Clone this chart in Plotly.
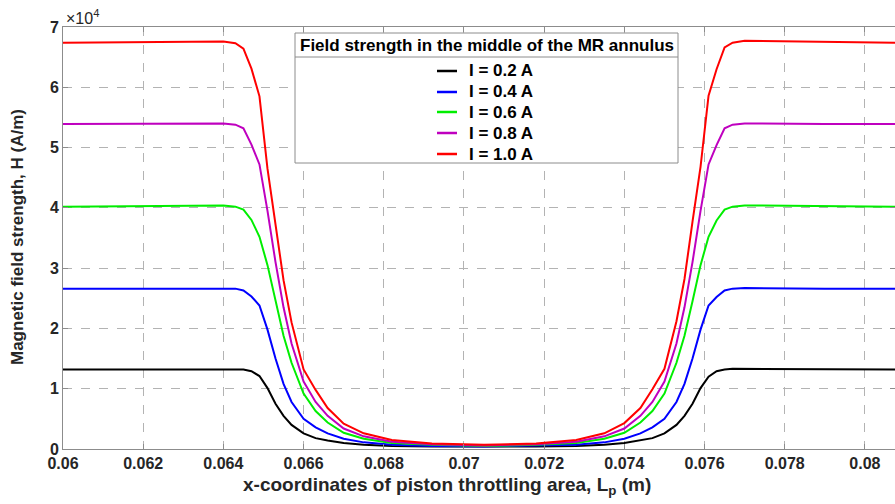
import plotly.graph_objects as go

# x-coordinates of piston throttling area (m)
x_m = [0.0600, 0.0620, 0.0640, 0.0643, 0.0645, 0.0647, 0.0649, 0.0651, 0.0653, 0.0655,
       0.0657, 0.0660, 0.0663, 0.0666, 0.0670, 0.0675, 0.0682, 0.0692, 0.0705,
       0.0718, 0.0728, 0.0735, 0.0740, 0.0744, 0.0747, 0.0750, 0.0753, 0.0755, 0.0757,
       0.0759, 0.0761, 0.0763, 0.0765, 0.0767, 0.0770, 0.0790, 0.0808]

# Field strength H in units of 1e4 A/m
h_02 = [1.32, 1.32, 1.33, 1.33, 1.32, 1.29, 1.21, 1.01, 0.75, 0.55,
        0.40, 0.26, 0.18, 0.14, 0.10, 0.07, 0.05, 0.04, 0.035,
        0.04, 0.05, 0.07, 0.10, 0.14, 0.18, 0.26, 0.40, 0.55, 0.75,
        1.01, 1.20, 1.29, 1.32, 1.33, 1.33, 1.32, 1.32]
h_04 = [2.66, 2.66, 2.67, 2.66, 2.63, 2.53, 2.38, 1.98, 1.50, 1.08,
        0.78, 0.50, 0.36, 0.26, 0.17, 0.11, 0.07, 0.05, 0.04,
        0.05, 0.07, 0.11, 0.17, 0.26, 0.36, 0.50, 0.78, 1.08, 1.50,
        1.98, 2.38, 2.52, 2.63, 2.66, 2.67, 2.66, 2.66]
h_06 = [4.02, 4.03, 4.04, 4.02, 3.97, 3.80, 3.52, 3.05, 2.45, 1.88,
        1.43, 0.92, 0.63, 0.44, 0.27, 0.17, 0.10, 0.07, 0.05,
        0.07, 0.10, 0.17, 0.27, 0.44, 0.63, 0.92, 1.43, 1.88, 2.45,
        3.05, 3.52, 3.79, 3.97, 4.02, 4.04, 4.03, 4.02]
h_08 = [5.39, 5.39, 5.40, 5.38, 5.32, 5.05, 4.72, 3.95, 3.10, 2.35,
        1.75, 1.12, 0.78, 0.55, 0.34, 0.21, 0.12, 0.08, 0.06,
        0.08, 0.12, 0.21, 0.34, 0.55, 0.78, 1.12, 1.75, 2.35, 3.10,
        3.95, 4.72, 5.04, 5.32, 5.38, 5.40, 5.39, 5.39]
h_10 = [6.74, 6.75, 6.76, 6.73, 6.64, 6.31, 5.85, 4.65, 3.75, 2.80,
        2.10, 1.32, 0.98, 0.68, 0.42, 0.26, 0.15, 0.09, 0.07,
        0.09, 0.15, 0.26, 0.43, 0.68, 0.99, 1.33, 2.12, 2.82, 3.77,
        4.68, 5.86, 6.30, 6.66, 6.74, 6.77, 6.76, 6.74]

names = ["I = 0.2 A", "I = 0.4 A", "I = 0.6 A", "I = 0.8 A", "I = 1.0 A"]
values = [h_02, h_04, h_06, h_08, h_10]
colors = ["#000000", "#0000ff", "#00ee00", "#bf00bf", "#ff0000"]

x_ticks = [0.06, 0.062, 0.064, 0.066, 0.068, 0.07, 0.072, 0.074, 0.076, 0.078, 0.08]
x_ticklabels = ["0.06", "0.062", "0.064", "0.066", "0.068", "0.07", "0.072", "0.074", "0.076", "0.078", "0.08"]
y_ticks = [0, 1, 2, 3, 4, 5, 6, 7]

FONT = "Liberation Sans, Arial, sans-serif"
TXT = "#262626"

# plot-area geometry in pixels (for placing the legend box in paper coords)
L, R, T, B = 63, 895, 27, 449
def px(xp):
    return (xp - L) / (R - L)
def py(yp):
    return (B - yp) / (B - T)

fig = go.Figure()
for name, h, col in zip(names, values, colors):
    fig.add_trace(go.Scatter(x=x_m, y=h, mode="lines", name=name,
                             line=dict(color=col, width=2)))

fig.update_layout(
    width=895, height=504,
    margin=dict(l=L, r=895 - R, t=T, b=504 - B),
    paper_bgcolor="white", plot_bgcolor="white",
    font=dict(family=FONT, color=TXT),
    showlegend=False,
    xaxis=dict(range=[0.06, 0.08075], tickvals=x_ticks, ticktext=x_ticklabels,
               showgrid=True, gridcolor="#b3b3b3", griddash="dash", gridwidth=1,
               showline=True, linecolor="#8c8c8c", linewidth=1, mirror="ticks",
               ticks="inside", ticklen=5, tickcolor="#8c8c8c",
               tickfont=dict(family=FONT, size=16, color=TXT, weight="bold"),
               zeroline=False),
    yaxis=dict(range=[0, 7], tickvals=y_ticks,
               showgrid=True, gridcolor="#b3b3b3", griddash="dash", gridwidth=1,
               showline=True, linecolor="#8c8c8c", linewidth=1, mirror="ticks",
               ticks="inside", ticklen=5, tickcolor="#8c8c8c",
               tickfont=dict(family=FONT, size=16, color=TXT, weight="bold"),
               zeroline=False),
)

# y-axis title
fig.add_annotation(xref="paper", yref="paper", x=px(17), y=py(237),
                   xanchor="center", yanchor="middle", showarrow=False, textangle=-90,
                   text="<b>Magnetic field strength, H (A/m)</b>",
                   font=dict(family=FONT, size=17, color=TXT))

# x-axis title (offset left as in the original figure)
fig.add_annotation(xref="paper", yref="paper", x=px(447), y=py(486),
                   xanchor="center", yanchor="middle", showarrow=False,
                   text="<b>x-coordinates of piston throttling area, L<sub>p</sub> (m)</b>",
                   font=dict(family=FONT, size=19, color=TXT))

# exponent label
fig.add_annotation(xref="paper", yref="paper", x=px(64), y=py(17),
                   xanchor="left", yanchor="middle", showarrow=False,
                   text="×10<sup>4</sup>",
                   font=dict(family=FONT, size=16, color=TXT))

# legend box, separator and title
fig.add_shape(type="rect", xref="paper", yref="paper",
              x0=px(295), x1=px(678), y0=py(163), y1=py(33),
              line=dict(color="#8c8c8c", width=1), fillcolor="white", layer="above")
fig.add_shape(type="line", xref="paper", yref="paper",
              x0=px(295), x1=px(678), y0=py(57), y1=py(57),
              line=dict(color="#8c8c8c", width=1), layer="above")
fig.add_annotation(xref="paper", yref="paper", x=px(486.5), y=py(45),
                   xanchor="center", yanchor="middle", showarrow=False,
                   text="<b>Field strength in the middle of the MR annulus</b>",
                   font=dict(family=FONT, size=17, color="#000000"))

# legend entries
entry_y = [71, 92, 112, 133, 154]
for name, col, ey in zip(names, colors, entry_y):
    fig.add_shape(type="line", xref="paper", yref="paper",
                  x0=px(437), x1=px(457), y0=py(ey), y1=py(ey),
                  line=dict(color=col, width=2.5), layer="above")
    fig.add_annotation(xref="paper", yref="paper", x=px(467), y=py(ey),
                       xanchor="left", yanchor="middle", showarrow=False,
                       text=f"<b>{name}</b>",
                       font=dict(family=FONT, size=17, color="#000000"))

fig.write_html("out.html")
